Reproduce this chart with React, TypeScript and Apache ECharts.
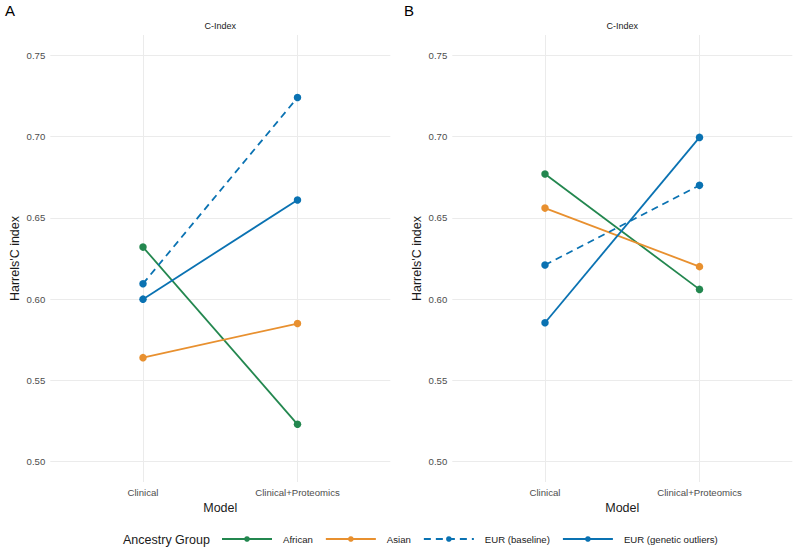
import React, { useEffect, useRef } from "react";
import * as echarts from "echarts";

// Categories and groups
const models = ["Clinical", "Clinical+Proteomics"];
const groups = ["African", "Asian", "EUR (baseline)", "EUR (genetic outliers)"];
const groupColors = ["#23874F", "#E8902F", "#0A72B2", "#0A72B2"];
const groupDashed = [false, false, true, false];

// Panel A: Harrell's C per model
const africanA = [0.632, 0.523];
const asianA = [0.564, 0.585];
const eurBaselineA = [0.6095, 0.724];
const eurOutliersA = [0.6, 0.661];

// Panel B: Harrell's C per model
const africanB = [0.677, 0.606];
const asianB = [0.656, 0.62];
const eurBaselineB = [0.621, 0.67];
const eurOutliersB = [0.5855, 0.6995];

const panelLabels = ["A", "B"];
const stripTitle = "C-Index";
const yTitle = "Harrels'C index";
const xTitle = "Model";
const legendTitle = "Ancestry Group";

const FONT = "Liberation Sans, Arial, Helvetica, sans-serif";
const GRID_COLOR = "#EBEBEB";
const TICK_COLOR = "#4D4D4D";

export default function App() {
  const ref = useRef<HTMLDivElement>(null);

  useEffect(() => {
    if (!ref.current) return;
    const chart = echarts.init(ref.current, undefined, { renderer: "svg" });

    const panels = [
      { bgLeft: 50.3, dataLeft: 143, values: [africanA, asianA, eurBaselineA, eurOutliersA] },
      { bgLeft: 452.3, dataLeft: 545, values: [africanB, asianB, eurBaselineB, eurOutliersB] },
    ];

    const grid: any[] = [];
    const xAxis: any[] = [];
    const yAxis: any[] = [];
    const series: any[] = [];
    const graphic: any[] = [];

    panels.forEach((p, pi) => {
      const bgIdx = grid.length;
      // background grid: horizontal grid lines and y labels across full panel width
      grid.push({ left: p.bgLeft, top: 55.3, width: 340, height: 406.4 });
      xAxis.push({ gridIndex: bgIdx, type: "value", min: 0, max: 1, show: false });
      yAxis.push({
        gridIndex: bgIdx,
        type: "value",
        min: 0.5,
        max: 0.75,
        interval: 0.05,
        name: yTitle,
        nameLocation: "middle",
        nameGap: 29,
        nameTextStyle: { fontFamily: FONT, fontSize: 12.5, color: "#1A1A1A" },
        axisLine: { show: false },
        axisTick: { show: false },
        axisLabel: {
          fontFamily: FONT,
          fontSize: 9.6,
          color: TICK_COLOR,
          margin: 5,
          formatter: (v: number) => v.toFixed(2),
        },
        splitLine: { lineStyle: { color: GRID_COLOR, width: 1 } },
      });

      const dIdx = grid.length;
      // data grid: categories sit on the left and right edges
      grid.push({ left: p.dataLeft, top: 35, width: 154.5, height: 447 });
      xAxis.push({
        gridIndex: dIdx,
        type: "category",
        data: models,
        boundaryGap: false,
        name: xTitle,
        nameLocation: "middle",
        nameGap: 19,
        nameTextStyle: { fontFamily: FONT, fontSize: 12.5, color: "#1A1A1A" },
        axisLine: { show: false },
        axisTick: { show: false },
        axisLabel: { fontFamily: FONT, fontSize: 9.6, color: TICK_COLOR, margin: 5 },
        splitLine: { show: true, lineStyle: { color: GRID_COLOR, width: 1 } },
      });
      yAxis.push({ gridIndex: dIdx, type: "value", min: 0.4875, max: 0.7625, show: false });

      groups.forEach((g, gi) => {
        series.push({
          name: g,
          type: "line",
          xAxisIndex: dIdx,
          yAxisIndex: dIdx,
          data: p.values[gi],
          clip: false,
          symbol: "circle",
          symbolSize: 7.5,
          color: groupColors[gi],
          itemStyle: { color: groupColors[gi] },
          lineStyle: {
            color: groupColors[gi],
            width: 1.8,
            type: groupDashed[gi] ? [7, 5] : "solid",
          },
        });
      });

      const centerX = p.bgLeft + 170;
      graphic.push({
        type: "text",
        left: pi === 0 ? 5 : 404,
        top: 3,
        style: { text: panelLabels[pi], font: `15px ${FONT}`, fill: "#000" },
      });
      graphic.push({
        type: "text",
        x: centerX,
        y: 26,
        style: {
          text: stripTitle,
          font: `9px ${FONT}`,
          fill: "#1A1A1A",
          textAlign: "center",
          textVerticalAlign: "middle",
        },
      });
    });

    graphic.push({
      type: "text",
      x: 123,
      y: 540,
      style: {
        text: legendTitle,
        font: `12.5px ${FONT}`,
        fill: "#1A1A1A",
        textAlign: "left",
        textVerticalAlign: "middle",
      },
    });

    chart.setOption({
      animation: false,
      backgroundColor: "#FFFFFF",
      grid,
      xAxis,
      yAxis,
      series,
      graphic,
      legend: {
        data: groups,
        left: 221,
        top: 534,
        padding: 0,
        orient: "horizontal",
        itemWidth: 50,
        itemHeight: 7,
        itemGap: 12,
        selectedMode: false,
        textStyle: { fontFamily: FONT, fontSize: 9.6, color: "#1A1A1A", padding: [0, 0, 0, 6] },
      },
    });

    return () => chart.dispose();
  }, []);

  return (
    <div
      ref={ref}
      style={{ position: "fixed", left: 0, top: 0, width: 794, height: 547 }}
    />
  );
}
